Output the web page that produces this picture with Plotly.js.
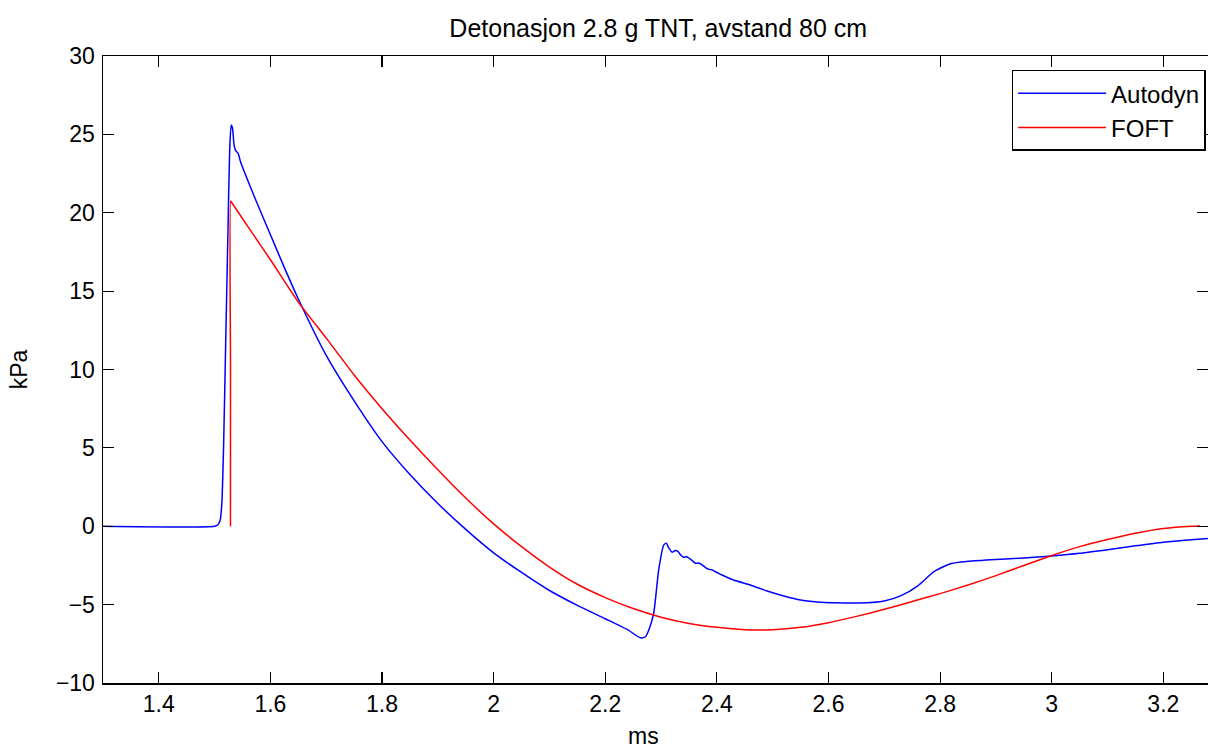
<!DOCTYPE html>
<html>
<head>
<meta charset="utf-8">
<script src="https://cdn.plot.ly/plotly-3.0.1.min.js"></script>
<style>
  html, body { margin: 0; padding: 0; background: #fff; }
  #chart { width: 1208px; height: 749px; }
</style>
</head>
<body>
<div id="chart"></div>
<script>
// Autodyn pressure trace (time in ms, pressure in kPa)
var autodyn_t = [1.30, 1.50, 1.506, 1.51, 1.513, 1.516, 1.52, 1.524, 1.527, 1.5297, 1.532, 1.535, 1.538, 1.542,
  1.546, 1.55, 1.575, 1.60, 1.625, 1.65, 1.70, 1.75, 1.80, 1.85, 1.90, 1.95, 2.00, 2.05, 2.10, 2.15, 2.20,
  2.24, 2.263, 2.272, 2.278, 2.2868, 2.2957, 2.3047, 2.3095, 2.314, 2.3198, 2.325, 2.3305, 2.3355, 2.3405,
  2.346, 2.3513, 2.356, 2.3615, 2.367, 2.3735, 2.379, 2.3853, 2.391, 2.3973, 2.403, 2.4093, 2.43, 2.46, 2.49,
  2.52, 2.55, 2.58, 2.61, 2.64, 2.67, 2.70, 2.73, 2.76, 2.79, 2.82, 2.85, 2.90, 2.95, 3.00, 3.05,
  3.10, 3.15, 3.20, 3.25, 3.28];
var autodyn_p = [0, 0, 0.1, 0.4, 1.5, 5, 12, 19, 24, 25.6, 25.4, 24.3, 23.95, 23.8,
  23.3, 22.9, 20.7, 18.6, 16.5, 14.5, 10.9, 8.0, 5.4, 3.3, 1.45, -0.2, -1.7, -2.95, -4.1, -5.05, -5.9,
  -6.6, -7.12, -7.05, -6.62, -5.55, -2.79, -1.2, -1.09, -1.4, -1.66, -1.55, -1.62, -1.85, -1.98,
  -1.95, -2.07, -2.2, -2.36, -2.35, -2.47, -2.62, -2.75, -2.78, -2.9, -3.0, -3.11, -3.43, -3.75, -4.13,
  -4.45, -4.71, -4.83, -4.88, -4.89, -4.88, -4.77, -4.43, -3.8, -2.87, -2.38, -2.24, -2.12, -2.03, -1.9, -1.73,
  -1.5, -1.25, -1.02, -0.86, -0.78];

// FOFT pressure trace
var foft_t = [1.5284, 1.5285, 1.5286, 1.5296, 1.56, 1.60, 1.65, 1.70, 1.75, 1.80, 1.85, 1.90, 1.95, 2.00,
  2.05, 2.10, 2.15, 2.20, 2.25, 2.30, 2.35, 2.40, 2.45, 2.50, 2.55, 2.60, 2.65, 2.70, 2.75, 2.80, 2.85,
  2.90, 2.95, 3.00, 3.05, 3.10, 3.15, 3.20, 3.25, 3.266];
var foft_p = [0, 10, 20.75, 20.7, 19.1, 17.0, 14.3, 12.0, 9.65, 7.5, 5.5, 3.6, 1.8, 0.15,
  -1.3, -2.6, -3.7, -4.55, -5.25, -5.8, -6.2, -6.45, -6.6, -6.6, -6.45, -6.15, -5.75, -5.3, -4.8, -4.3, -3.75,
  -3.15, -2.5, -1.87, -1.3, -0.85, -0.45, -0.15, 0.0, 0.02];

var series_names = ['Autodyn', 'FOFT'];
var chart_title = 'Detonasjon 2.8 g TNT, avstand 80 cm';

var font = 'Liberation Sans, Arial, Helvetica, sans-serif';

var trace1 = {
  x: autodyn_t,
  y: autodyn_p,
  name: series_names[0],
  mode: 'lines',
  type: 'scatter',
  line: { color: '#0000ff', width: 1.5, shape: 'spline', smoothing: 0.6 }
};

var trace2 = {
  x: foft_t,
  y: foft_p,
  name: series_names[1],
  mode: 'lines',
  type: 'scatter',
  line: { color: '#ff0000', width: 1.5, shape: 'spline', smoothing: 0.6 }
};

var layout = {
  width: 1208,
  height: 749,
  margin: { l: 102.5, r: 0, t: 56, b: 66 },
  paper_bgcolor: '#fff',
  plot_bgcolor: '#fff',
  font: { family: font, size: 23, color: '#000' },
  title: {
    text: chart_title,
    font: { family: font, size: 25, color: '#000' },
    x: 0.5025, xref: 'paper', xanchor: 'center',
    y: 33, yref: 'container', yanchor: 'middle'
  },
  xaxis: {
    range: [1.3, 3.28],
    dtick: 0.2, tick0: 0,
    ticks: 'inside', ticklen: 11, tickwidth: 1.2, tickcolor: '#000',
    showline: true, linecolor: '#000', linewidth: 1.5, mirror: 'ticks',
    showgrid: false, zeroline: false,
    tickfont: { family: font, size: 23, color: '#000' }
  },
  yaxis: {
    range: [-10, 30],
    dtick: 5,
    ticks: 'inside', ticklen: 11, tickwidth: 1.2, tickcolor: '#000',
    showline: true, linecolor: '#000', linewidth: 1.5, mirror: 'ticks',
    showgrid: false, zeroline: false,
    ticklabelstandoff: 2,
    tickfont: { family: font, size: 23, color: '#000' },
    title: { text: 'kPa', font: { family: font, size: 23, color: '#000' }, standoff: 22 }
  },
  annotations: [{
    text: 'ms',
    xref: 'paper', yref: 'paper',
    x: 0.489, y: -0.085,
    xanchor: 'center', yanchor: 'middle',
    showarrow: false,
    font: { family: font, size: 23, color: '#000' }
  }],
  showlegend: true,
  legend: {
    x: 0.998, xanchor: 'right',
    y: 0.978, yanchor: 'top',
    bgcolor: '#fff', bordercolor: '#000', borderwidth: 1.3,
    font: { family: font, size: 24, color: '#000' },
    itemwidth: 88,
    tracegroupgap: 0
  }
};

Plotly.newPlot('chart', [trace1, trace2], layout, { displayModeBar: false, staticPlot: true });
</script>
</body>
</html>
